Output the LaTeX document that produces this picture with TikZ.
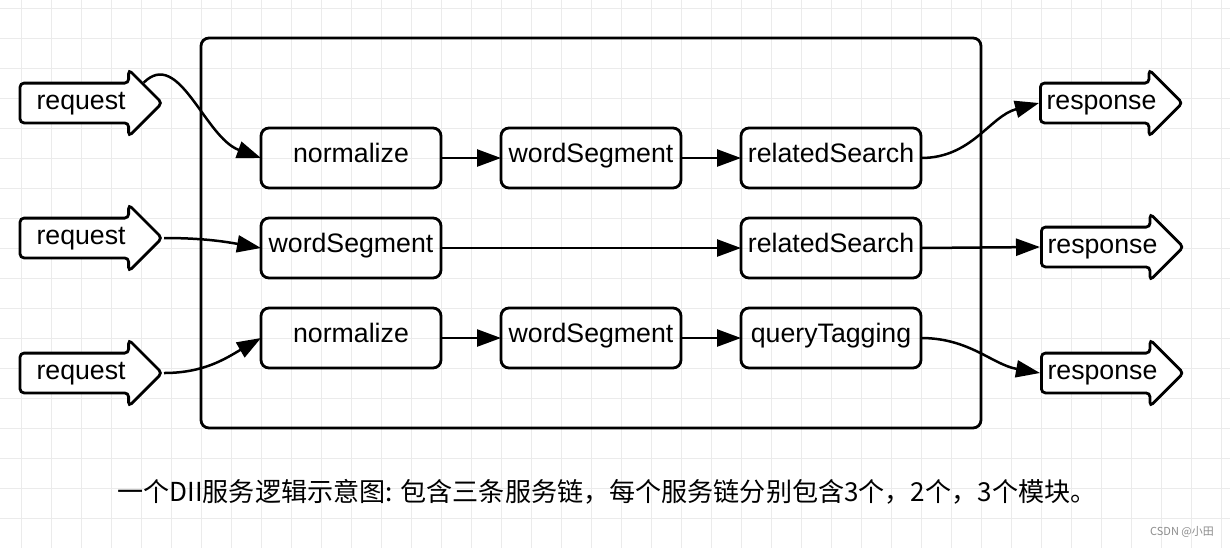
\documentclass[tikz,border=0pt]{standalone}
\usepackage{fontspec}
\setmainfont{Liberation Sans}
\newfontfamily\cjkfont{Noto Sans CJK SC}
\usetikzlibrary{positioning, shapes.arrows, arrows.meta}

\begin{document}
\begin{tikzpicture}[
      x=0.5pt, y=-0.5pt,
      every path/.style={line width=1.4pt},
      node distance=15pt and 30pt,
      every node/.style={font=\fontsize{13.35}{16}\selectfont},
      box/.style={draw, rounded corners=4pt, minimum width=90pt, minimum height=30pt,
          inner sep=0pt, outer sep=0pt, text height=8pt, text depth=4pt},
      flowarrow/.style={draw, fill=white, single arrow, rounded corners=2pt,
          minimum height=71pt, minimum width=32pt, single arrow head extend=6.75pt,
          inner ysep=3.25pt, inner xsep=0pt, text height=9pt, text depth=3pt},
      link/.style={-{Triangle[length=12pt,width=8.5pt]}, line width=1.25pt},
      gridline/.style={draw=black!8, line width=0.5pt}
    ]
    \fill[white] (0,0) rectangle (1230,548);
    \useasboundingbox (0,0) rectangle (1230,548);
    \foreach \x in {21.7,51.7,...,1230}
        \draw[gridline] (\x,0) -- (\x,548);
    \foreach \y in {8.3,38.3,...,548}
        \draw[gridline] (0,\y) -- (1230,\y);

    \draw[rounded corners=4pt] (201,38) rectangle (981,428);

    % three chains of modules
    \node[box] at (351,158) (norm1) {normalize};
    \node[box, right=of norm1] (seg1) {wordSegment};
    \node[box, right=of seg1] (rel1) {relatedSearch};
    \node[box, below=of norm1] (seg2) {wordSegment};
    \node[box, below=of rel1] (rel2) {relatedSearch};
    \node[box, below=of seg2] (norm3) {normalize};
    \node[box, right=of norm3] (seg3) {wordSegment};
    \node[box, right=of seg3] (qtag3) {queryTagging};

    \node[flowarrow, anchor=tip] at (164,103) (req1) {request};
    \node[flowarrow, anchor=tip] at (164,238) (req2) {request};
    \node[flowarrow, anchor=tip] at (164,373) (req3) {request};
    \node[flowarrow, anchor=tail] at (1039,103) (resp1) {response};
    \node[flowarrow, anchor=tail] at (1040,247) (resp2) {response};
    \node[flowarrow, anchor=tail] at (1040,373) (resp3) {response};

    \draw[link] (req1.18) to[out=45, in=160, out distance=25pt, in distance=30pt] (norm1.west);
    \draw[link] (req2.tip) to[out=0, in=170] (seg2.west);
    \draw[link] (req3.tip) to[out=0, in=210] (norm3.west);

    \draw[link] (norm1) -- (seg1);
    \draw[link] (seg1) -- (rel1);
    \draw[link] (seg2) -- (rel2);
    \draw[link] (norm3) -- (seg3);
    \draw[link] (seg3) -- (qtag3);

    \draw[link] (rel1.east) to[out=0, in=195] (resp1.tail);
    \draw[link] (rel2.east) -- (resp2.tail);
    \draw[link] (qtag3.east) to[out=0, in=170] (resp3.tail);

    \node[font=\cjkfont\fontsize{13.05}{16}\selectfont] at (607,492) (cap)
        {一个DII服务逻辑示意图: 包含三条服务链，每个服务链分别包含3个，2个，3个模块。};
    \node[font=\cjkfont\fontsize{5.5}{7}\selectfont, text=black!45] at (1182,532) (credit) {CSDN @小田};
\end{tikzpicture}
\end{document}
